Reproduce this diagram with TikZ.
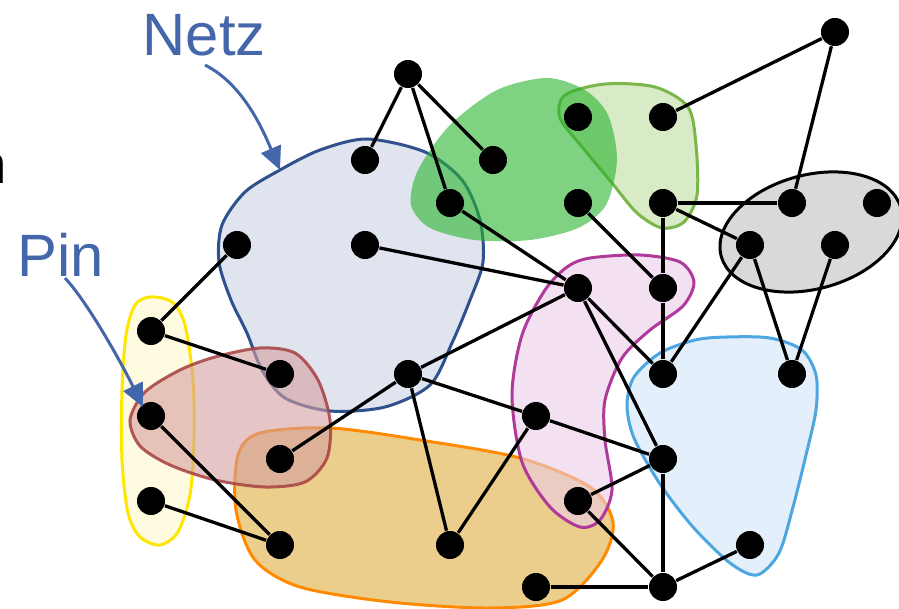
\documentclass[tikz,border=0pt]{standalone}
\usepackage{fontspec}
\setmainfont{Liberation Sans}
\usetikzlibrary{arrows.meta}
\definecolor{labelblue}{RGB}{68, 102, 171}
\definecolor{netzline}{RGB}{47, 82, 143}
\definecolor{netzfill}{RGB}{223, 228, 238}
\definecolor{leafgreen}{RGB}{40, 180, 45}
\definecolor{limeline}{RGB}{122, 182, 72}
\definecolor{limefill}{RGB}{217, 234, 199}
\definecolor{greyfill}{RGB}{217, 217, 217}
\definecolor{plumline}{RGB}{176, 58, 154}
\definecolor{plumfill}{RGB}{235, 203, 230}
\definecolor{skyline}{RGB}{78, 166, 224}
\definecolor{skyfill}{RGB}{227, 240, 251}
\definecolor{pinline}{RGB}{255, 230, 0}
\definecolor{pinfill}{RGB}{255, 251, 224}
\definecolor{rustline}{RGB}{166, 64, 64}
\definecolor{rustfill}{RGB}{212, 158, 160}
\definecolor{amberline}{RGB}{255, 138, 0}
\definecolor{amberfill}{RGB}{236, 206, 140}
\tikzset{
  vertex/.style={
    circle,
    fill=black,
    inner sep=0pt,
    minimum size=2.8mm
  },
  wire/.style={
    line width=0.33mm,
    draw=black
  },
  blob/.style={
    line width=0.3mm
  },
  callout/.style={
    -{Triangle[length=2.3mm, width=2.1mm]},
    line width=0.3mm,
    draw=labelblue
  },
  tag/.style={
    font=\fontsize{17}{20}\selectfont,
    text=labelblue,
    inner sep=0pt,
    anchor=base west
  }
}

\begin{document}
\begin{tikzpicture}[x=0.01cm, y=-0.01cm]
  \useasboundingbox (0,0) rectangle (899,609);

  % Nets as filled blobs
  \draw[blob, draw=pinline, fill=pinfill] plot[smooth cycle] coordinates {
    (150,297) (172,302) (185,325) (193,380) (194,440) (190,495) (178,532)
    (160,545) (140,537) (128,513) (122,460) (122,390) (126,335) (135,305)};
  \draw[blob, draw=netzline, fill=netzfill] plot[smooth cycle] coordinates {
    (367,139) (425,152) (462,180) (480,220) (483,262) (470,300) (452,343)
    (430,385) (385,407) (330,411) (285,398) (262,370) (247,333) (231,300)
    (219,262) (222,225) (245,192) (280,170) (320,150)};
  \draw[blob, draw=amberline, fill=amberfill] plot[smooth cycle] coordinates {
    (260,433) (330,428) (420,440) (520,458) (590,487) (613,522) (602,560)
    (562,600) (490,608) (390,602) (300,587) (255,560) (236,510) (238,455)};
  \draw[blob, draw=rustline, draw opacity=0.85, fill=rustfill, fill opacity=0.6] plot[smooth cycle] coordinates {
    (130,420) (145,392) (180,370) (215,357) (260,348) (295,353) (318,380)
    (330,420) (327,458) (305,482) (265,487) (215,480) (170,465) (140,446)};
  \draw[blob, draw=limeline, fill=limefill] plot[smooth cycle] coordinates {
    (605,84) (655,87) (688,107) (696,145) (697,195) (684,222) (662,228)
    (637,213) (612,183) (583,148) (560,118) (565,95)};
  \fill[leafgreen, fill opacity=0.6] plot[smooth cycle] coordinates {
    (547,78) (585,90) (608,115) (617,160) (606,205) (578,228) (530,240)
    (475,240) (430,228) (411,205) (418,170) (450,125) (497,90)};
  \draw[blob, draw=plumline, fill=plumfill, fill opacity=0.6] plot[smooth cycle] coordinates {
    (590,258) (640,255) (680,262) (694,282) (683,306) (650,330) (622,358)
    (605,400) (605,440) (612,490) (600,520) (580,527) (550,507) (522,462)
    (512,395) (522,335) (545,290) (567,267)};
  \draw[blob, draw=skyline, fill=skyfill] plot[smooth cycle] coordinates {
    (727,337) (770,338) (802,350) (816,375) (816,410) (806,455) (793,507)
    (779,553) (757,575) (730,563) (693,527) (660,484) (634,438) (627,405)
    (634,377) (660,353) (695,340)};
  \draw[blob, draw=black, fill=greyfill, rotate around={15:(811,232)}]
    (811,232) ellipse [x radius=93, y radius=57];

  % Pins
  \node[vertex] (n1) at (408,74) {};
  \node[vertex] (n2) at (365,160) {};
  \node[vertex] (n3) at (493,160) {};
  \node[vertex] (n4) at (450,203) {};
  \node[vertex] (n5) at (578,117) {};
  \node[vertex] (n6) at (578,203) {};
  \node[vertex] (n7) at (663,117) {};
  \node[vertex] (n8) at (663,203) {};
  \node[vertex] (n9) at (835,32) {};
  \node[vertex] (n10) at (792,203) {};
  \node[vertex] (n11) at (877,203) {};
  \node[vertex] (n12) at (750,245) {};
  \node[vertex] (n13) at (835,245) {};
  \node[vertex] (n14) at (237,245) {};
  \node[vertex] (n15) at (365,245) {};
  \node[vertex] (n16) at (578,288) {};
  \node[vertex] (n17) at (663,288) {};
  \node[vertex] (n18) at (151,331) {};
  \node[vertex] (n19) at (280,374) {};
  \node[vertex] (n20) at (408,374) {};
  \node[vertex] (n21) at (663,374) {};
  \node[vertex] (n22) at (792,374) {};
  \node[vertex] (n23) at (151,416) {};
  \node[vertex] (n24) at (536,416) {};
  \node[vertex] (n25) at (280,459) {};
  \node[vertex] (n26) at (663,459) {};
  \node[vertex] (n27) at (151,501) {};
  \node[vertex] (n28) at (578,501) {};
  \node[vertex] (n29) at (280,545) {};
  \node[vertex] (n30) at (450,545) {};
  \node[vertex] (n31) at (750,545) {};
  \node[vertex] (n32) at (536,587) {};
  \node[vertex] (n33) at (663,587) {};

  % Wires between pins
  \draw[wire] (n1) -- (n2);
  \draw[wire] (n1) -- (n4);
  \draw[wire] (n1) -- (n3);
  \draw[wire] (n4) -- (n16);
  \draw[wire] (n15) -- (n16);
  \draw[wire] (n7) -- (n9);
  \draw[wire] (n9) -- (n10);
  \draw[wire] (n8) -- (n10);
  \draw[wire] (n8) -- (n12);
  \draw[wire] (n8) -- (n17);
  \draw[wire] (n6) -- (n17);
  \draw[wire] (n12) -- (n21);
  \draw[wire] (n12) -- (n22);
  \draw[wire] (n13) -- (n22);
  \draw[wire] (n14) -- (n18);
  \draw[wire] (n18) -- (n19);
  \draw[wire] (n16) -- (n20);
  \draw[wire] (n16) -- (n21);
  \draw[wire] (n16) -- (n26);
  \draw[wire] (n17) -- (n21);
  \draw[wire] (n20) -- (n24);
  \draw[wire] (n24) -- (n26);
  \draw[wire] (n20) -- (n30);
  \draw[wire] (n24) -- (n30);
  \draw[wire] (n20) -- (n25);
  \draw[wire] (n23) -- (n29);
  \draw[wire] (n27) -- (n29);
  \draw[wire] (n26) -- (n28);
  \draw[wire] (n28) -- (n33);
  \draw[wire] (n32) -- (n33);
  \draw[wire] (n31) -- (n33);
  \draw[wire] (n26) -- (n33);

  % Labels with their arrows
  \node[tag] (netzlabel) at (142,55) {Netz};
  \node[tag] (pinlabel) at (17,277) {Pin};
  \node[inner sep=0pt, anchor=base west, font=\fontsize{15.5}{18}\selectfont] (cutlabel) at (-24,183) {n};
  \coordinate (netztail) at (205,65);
  \coordinate (netztip) at (280,170);
  \coordinate (pintail) at (65,278);
  \coordinate (pintip) at (143,407);
  \draw[callout] (netztail) .. controls (245,85) and (265,135) .. (netztip);
  \draw[callout] (pintail) .. controls (90,305) and (125,370) .. (pintip);
\end{tikzpicture}
\end{document}
